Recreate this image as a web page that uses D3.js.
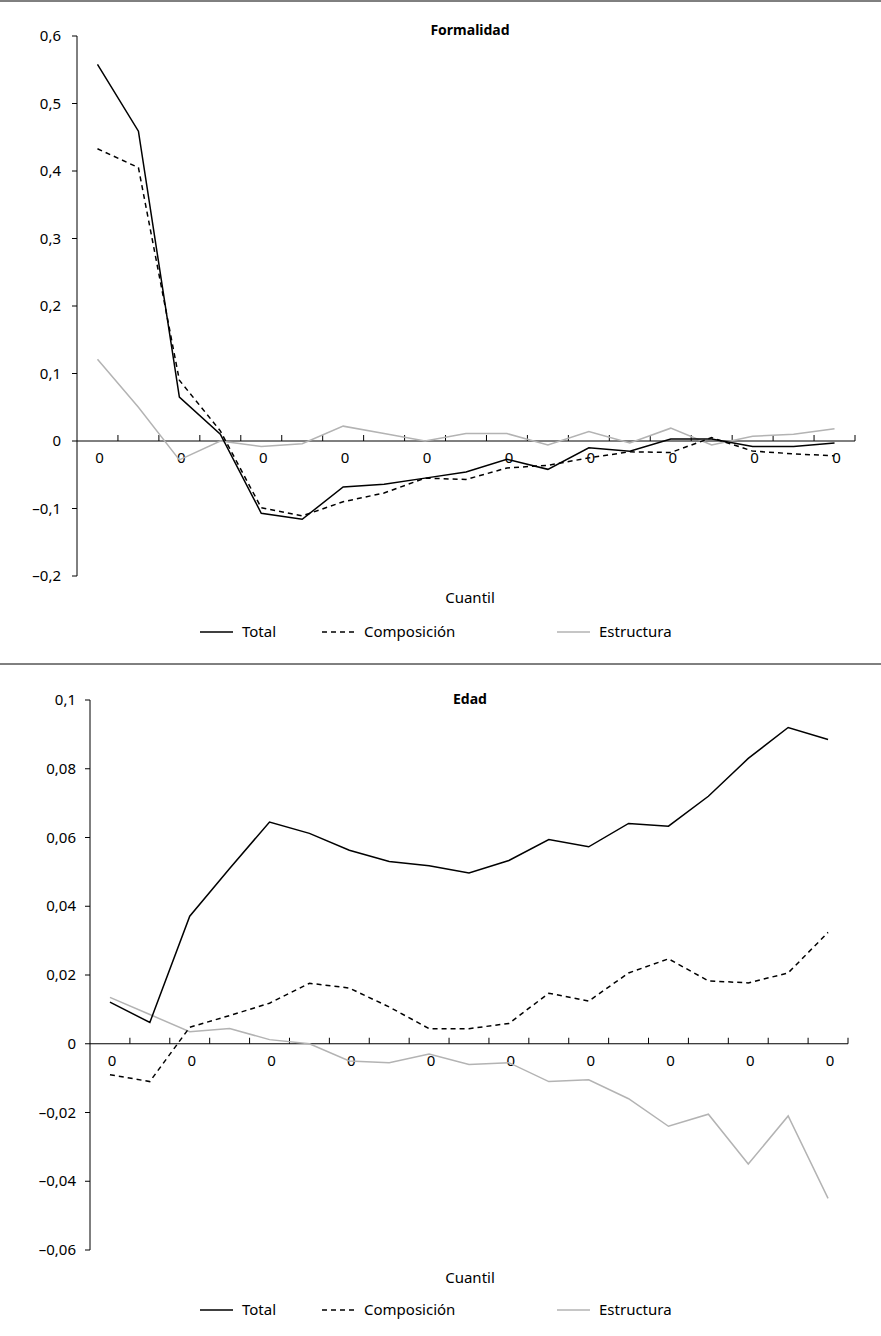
<!DOCTYPE html>
<html><head><meta charset="utf-8">
<script src="https://cdn.jsdelivr.net/npm/d3@7"></script>
<style>body{margin:0;background:#fff}text{font-family:"Noto Sans",sans-serif}</style>
</head><body><svg id="c" width="881" height="1336"></svg>
<script>
const quantiles = d3.range(19).map(i => "q" + i);
const xTickLabel = "0";
const formTotal = [0.558,0.459,0.065,0.01,-0.107,-0.116,-0.068,-0.064,-0.055,-0.046,-0.027,-0.042,-0.010,-0.015,0.003,0.003,-0.008,-0.008,-0.003];
const formComp = [0.433,0.405,0.09,0.015,-0.099,-0.111,-0.090,-0.077,-0.055,-0.057,-0.040,-0.036,-0.025,-0.016,-0.017,0.005,-0.015,-0.019,-0.022];
const formEstr = [0.121,0.05,-0.028,0.0,-0.008,-0.004,0.022,0.011,0.0,0.011,0.011,-0.006,0.014,-0.003,0.019,-0.006,0.007,0.010,0.018];
const formTicks = [0.6,0.5,0.4,0.3,0.2,0.1,0,-0.1,-0.2];
const edadTotal = [0.0121,0.0062,0.0371,0.051,0.0645,0.0612,0.0563,0.053,0.0518,0.0497,0.0533,0.0594,0.0573,0.0641,0.0633,0.072,0.083,0.092,0.0885];
const edadComp = [-0.009,-0.011,0.0048,0.0082,0.0118,0.0176,0.0162,0.0107,0.0044,0.0044,0.0059,0.0147,0.0124,0.0206,0.0247,0.0183,0.0177,0.0206,0.0324];
const edadEstr = [0.0135,0.0085,0.0035,0.0044,0.0012,0.0,-0.005,-0.0055,-0.003,-0.006,-0.0055,-0.011,-0.0105,-0.016,-0.024,-0.0205,-0.035,-0.021,-0.045];
const edadTicks = [0.1,0.08,0.06,0.04,0.02,0,-0.02,-0.04,-0.06];

const svg = d3.select("#c");
const fmt = v => (v < 0 ? "\u2013" : "") + String(Math.abs(+v.toFixed(3))).replace(".", ",");

svg.append("line").attr("x1",0).attr("x2",881).attr("y1",1).attr("y2",1).attr("stroke","#000");
svg.append("line").attr("x1",0).attr("x2",881).attr("y1",664).attr("y2",664).attr("stroke","#000");

function panel(o){
  const x = d3.scaleBand().domain(quantiles).range(o.xr);
  const y = d3.scaleLinear().domain(o.yd).range(o.yr);
  const g = svg.append("g");
  g.append("text").attr("x",470).attr("y",o.titleY).attr("text-anchor","middle").attr("font-size",14).attr("font-weight","bold").text(o.title);
  g.append("line").attr("x1",o.xr[0]).attr("x2",o.xr[0]).attr("y1",o.yr[1]).attr("y2",o.yr[0]).attr("stroke","#000");
  o.ticks.forEach(t=>{
    g.append("line").attr("x1",o.xr[0]-5).attr("x2",o.xr[0]).attr("y1",y(t)).attr("y2",y(t)).attr("stroke","#000");
    g.append("text").attr("x",o.labelX).attr("y",y(t)+5).attr("text-anchor","end").attr("font-size",15).text(fmt(t));
  });
  const y0 = y(0);
  g.append("line").attr("x1",o.xr[0]).attr("x2",o.xr[1]).attr("y1",y0).attr("y2",y0).attr("stroke","#000");
  quantiles.forEach((q,i)=>{
    const xb = x(q)+x.bandwidth();
    g.append("line").attr("x1",xb).attr("x2",xb).attr("y1",y0).attr("y2",y0-6).attr("stroke","#000");
    if(i%2===0) g.append("text").attr("x",x(q)+x.bandwidth()/2+2).attr("y",y0+22).attr("text-anchor","middle").attr("font-size",15).text(xTickLabel);
  });
  const line = d3.line().x((d,i)=>x(quantiles[i])+x.bandwidth()/2).y(d=>y(d));
  const series = [[o.estr,"#b3b3b3",null],[o.comp,"#000","5,4"],[o.total,"#000",null]];
  series.forEach(s=>g.append("path").attr("d",line(s[0])).attr("fill","none").attr("stroke",s[1]).attr("stroke-width",1.5).attr("stroke-dasharray",s[2]));
  g.append("text").attr("x",470).attr("y",o.cuantilY).attr("text-anchor","middle").attr("font-size",15).text("Cuantil");
  const ly = o.legY;
  [[200,"#000",null,"Total"],[322,"#000","5,4","Composición"],[557,"#b3b3b3",null,"Estructura"]].forEach(l=>{
    g.append("line").attr("x1",l[0]).attr("x2",l[0]+33).attr("y1",ly).attr("y2",ly).attr("stroke",l[1]).attr("stroke-width",1.5).attr("stroke-dasharray",l[2]);
    g.append("text").attr("x",l[0]+42).attr("y",ly+5).attr("font-size",15).text(l[3]);
  });
}
panel({xr:[77,855],yd:[-0.2,0.6],yr:[576,36],ticks:formTicks,labelX:61,title:"Formalidad",titleY:35,
  total:formTotal,comp:formComp,estr:formEstr,cuantilY:603,legY:632});
panel({xr:[90,848],yd:[-0.06,0.1],yr:[1250,700],ticks:edadTicks,labelX:76,title:"Edad",titleY:704,
  total:edadTotal,comp:edadComp,estr:edadEstr,cuantilY:1283,legY:1310});
</script></body></html>
